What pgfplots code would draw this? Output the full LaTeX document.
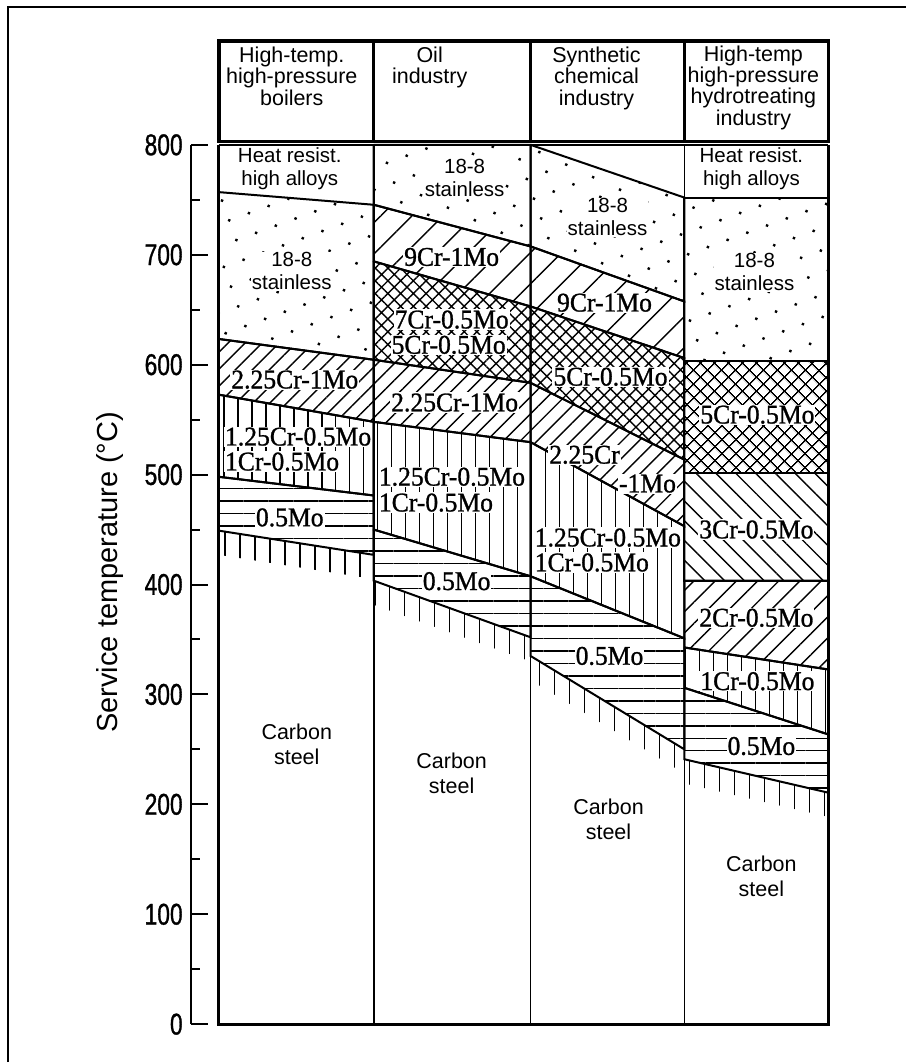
\documentclass[border=0pt]{standalone}
\usepackage{fontspec}
\setmainfont{Liberation Sans}
\newfontfamily\alloy[FakeStretch=0.95,FakeBold=1]{Liberation Serif}
\newfontfamily\tickfont[FakeStretch=0.76,FakeBold=1]{Liberation Sans}
\usepackage{pgfplots}
\pgfplotsset{compat=1.18}
\usetikzlibrary{patterns.meta}

\tikzset{
  bnd/.style={draw=black, line width=2pt},
  pDots/.style={pattern={Dots[distance=21pt, radius=1.7pt, angle=20]}},
  p225/.style={pattern={Lines[angle=45, distance=12pt, line width=1.4pt]}},
  p9/.style={pattern={Lines[angle=45, distance=22pt, line width=1.4pt]}},
  pXH/.style={pattern={Hatch[angle=45, distance=9pt, line width=1.4pt]}},
  pXH4/.style={pattern={Hatch[angle=45, distance=10.5pt, line width=1.5pt]}},
  p3/.style={pattern={Lines[angle=-45, distance=14pt, line width=1.4pt]}},
  p2/.style={pattern={Lines[angle=45, distance=15pt, line width=1.4pt]}},
  pVert/.style={pattern={Lines[angle=90, distance=14pt, line width=1.5pt]}},
  pHorz/.style={pattern={Lines[angle=0, distance=12.5pt, line width=1.5pt]}},
  pFringe/.style={pattern={Lines[angle=90, distance=15pt, line width=1.6pt]}},
  hd/.style={align=center, font=\fontsize{21.5}{21.5}\selectfont},
  lab/.style={align=center, font=\fontsize{20.5}{23}\selectfont, fill=white, inner sep=1pt},
  cs/.style={align=center, font=\fontsize{21.5}{25}\selectfont},
  al/.style={font=\alloy\fontsize{27}{28}\selectfont, fill=white, inner sep=1pt},
}

\begin{document}
\begin{tikzpicture}
\begin{axis}[
  x=1pt, y=1.1pt,
  xmin=191, xmax=829, ymin=0, ymax=800,
  axis x line=none, axis y line=left,
  axis line style={-, line width=2.4pt},
  clip=false,
  xtick=\empty,
  ytick={0,100,...,800},
  minor ytick={50,150,...,750},
  tick align=inside,
  major tick length=17pt, minor tick length=9pt,
  tick style={black, line width=2pt},
  /pgf/number format/assume math mode=true,
  yticklabel style={font=\tickfont\fontsize{30}{30}\selectfont, inner sep=0pt, xshift=-8pt},
  ylabel={Service temperature (°C)},
  ylabel style={font=\fontsize{29}{31}\selectfont, at={(axis description cs:-0.127,0.514)}, anchor=center},
]
% page extent and outer frame
\path (axis cs:0,-34.5) rectangle (axis cs:907,931.8);
\draw[line width=1.8pt] (axis cs:8,-34.5) -- (axis cs:8,925.5) -- (axis cs:907,925.5);

% column 1: high-temp. high-pressure boilers
\addplot[bnd, pDots] coordinates {(219,757) (374,745.5) (374,604.5) (219,623.4) (219,757)};
\addplot[bnd, p225] coordinates {(219,623.4) (374,604.5) (374,548) (219,572.7) (219,623.4)};
\addplot[bnd, pVert] coordinates {(219,572.7) (374,548) (374,481) (219,498) (219,572.7)};
\addplot[bnd, pHorz] coordinates {(219,498) (374,481) (374,427) (219,449) (219,498)};
\addplot[draw=none, pFringe] coordinates {(219,449) (374,427) (374,405) (219,427)};

% column 2: oil industry
\addplot[bnd, pDots] coordinates {(374,800) (531,800) (531,707.6) (374,745.5) (374,800)};
\addplot[bnd, p9] coordinates {(374,745.5) (531,707.6) (531,653) (374,694) (374,745.5)};
\addplot[bnd, pXH] coordinates {(374,694) (531,653) (531,583.5) (374,604.5) (374,694)};
\addplot[bnd, p225] coordinates {(374,604.5) (531,583.5) (531,529.5) (374,548) (374,604.5)};
\addplot[bnd, pVert] coordinates {(374,548) (531,529.5) (531,407.5) (374,450) (374,548)};
\addplot[bnd, pHorz] coordinates {(374,450) (531,407.5) (531,352) (374,403.5) (374,450)};
\addplot[draw=none, pFringe] coordinates {(374,403.5) (531,352) (531,330) (374,381.5)};

% column 3: synthetic chemical industry
\addplot[bnd, pDots] coordinates {(531,800) (685,752) (685,657.5) (531,707.6) (531,800)};
\addplot[bnd, p9] coordinates {(531,707.6) (685,657.5) (685,606) (531,653) (531,707.6)};
\addplot[bnd, pXH] coordinates {(531,653) (685,606) (685,513.6) (531,583.5) (531,653)};
\addplot[bnd, p225] coordinates {(531,583.5) (685,513.6) (685,453) (531,529.5) (531,583.5)};
\addplot[bnd, pVert] coordinates {(531,529.5) (685,453) (685,351) (531,407.5) (531,529.5)};
\addplot[bnd, pHorz] coordinates {(531,407.5) (685,351) (685,250) (531,335) (531,407.5)};
\addplot[draw=none, pFringe] coordinates {(531,335) (685,250) (685,228) (531,313)};

% column 4: high-temp high-pressure hydrotreating
\addplot[bnd, pDots] coordinates {(685,751.5) (829,751.5) (829,603.6) (685,603.6) (685,751.5)};
\addplot[bnd, pXH4] coordinates {(685,603.6) (829,603.6) (829,501.5) (685,501.5) (685,603.6)};
\addplot[bnd, p3] coordinates {(685,501.5) (829,501.5) (829,403.6) (685,403.6) (685,501.5)};
\addplot[bnd, p2] coordinates {(685,403.6) (829,403.6) (829,322.7) (685,342.7) (685,403.6)};
\addplot[bnd, pVert] coordinates {(685,342.7) (829,322.7) (829,263.6) (685,306) (685,342.7)};
\addplot[bnd, pHorz] coordinates {(685,306) (829,263.6) (829,210.6) (685,241) (685,306)};
\addplot[draw=none, pFringe] coordinates {(685,241) (829,210.6) (829,188.6) (685,219)};

% column frame
\addplot[line width=2.8pt] coordinates {(219,800) (219,0) (829,0) (829,800)};
\addplot[line width=2pt] coordinates {(219,800) (829,800)};
\addplot[line width=1.8pt] coordinates {(374,0) (374,800)};
\addplot[line width=1.8pt] coordinates {(531,0) (531,800)};
\addplot[line width=1.8pt] coordinates {(685,0) (685,800)};

% header boxes
\draw[line width=3.5pt] (axis cs:219,803) rectangle (axis cs:829,894.5);
\draw[line width=3.5pt] (axis cs:374,803) -- (axis cs:374,894.5);
\draw[line width=3.5pt] (axis cs:531,803) -- (axis cs:531,894.5);
\draw[line width=3.5pt] (axis cs:685,803) -- (axis cs:685,894.5);
\node[hd] at (axis cs:292,862.7) {High-temp.\\high-pressure\\boilers};
\node[hd] at (axis cs:430,870.5) {Oil\\industry};
\node[hd] at (axis cs:597,860.5) {Synthetic\\chemical\\industry};
\node[hd] at (axis cs:754,852) {High-temp\\high-pressure\\hydrotreating\\industry};

% region labels
\node[lab] at (axis cs:290,778.2) {Heat resist.\\high alloys};
\node[lab] at (axis cs:752,778) {Heat resist.\\high alloys};
\node[lab] at (axis cs:292,685) {18-8\\stainless};
\node[lab] at (axis cs:465,770) {18-8\\stainless};
\node[lab] at (axis cs:608,734) {18-8\\stainless};
\node[lab] at (axis cs:755,684) {18-8\\stainless};

\node[al] at (axis cs:452,698) {9Cr-1Mo};
\node[al] at (axis cs:605,656.4) {9Cr-1Mo};
\node[al] at (axis cs:452,641) {7Cr-0.5Mo};
\node[al] at (axis cs:449,618) {5Cr-0.5Mo};
\node[al] at (axis cs:611,589) {5Cr-0.5Mo};
\node[al] at (axis cs:758,554.5) {5Cr-0.5Mo};
\node[al] at (axis cs:295,586.4) {2.25Cr-1Mo};
\node[al] at (axis cs:455,565.5) {2.25Cr-1Mo};
\node[al] at (axis cs:585,518) {2.25Cr};
\node[al] at (axis cs:648,491.8) {-1Mo};
\node[al, anchor=west] at (axis cs:224,534.5) {1.25Cr-0.5Mo};
\node[al, anchor=west] at (axis cs:224,511.8) {1Cr-0.5Mo};
\node[al, anchor=west] at (axis cs:378,498) {1.25Cr-0.5Mo};
\node[al, anchor=west] at (axis cs:378,474.5) {1Cr-0.5Mo};
\node[al, anchor=west] at (axis cs:534,442.7) {1.25Cr-0.5Mo};
\node[al, anchor=west] at (axis cs:534,420) {1Cr-0.5Mo};
\node[al] at (axis cs:290,461) {0.5Mo};
\node[al] at (axis cs:457,403) {0.5Mo};
\node[al] at (axis cs:610,335) {0.5Mo};
\node[al] at (axis cs:762,253) {0.5Mo};
\node[al] at (axis cs:757,450) {3Cr-0.5Mo};
\node[al] at (axis cs:757,369.7) {2Cr-0.5Mo};
\node[al] at (axis cs:758,312) {1Cr-0.5Mo};

\node[cs] at (axis cs:297,255) {Carbon\\steel};
\node[cs] at (axis cs:452,228) {Carbon\\steel};
\node[cs] at (axis cs:609,186) {Carbon\\steel};
\node[cs] at (axis cs:762,134.5) {Carbon\\steel};
\end{axis}
\end{tikzpicture}
\end{document}
